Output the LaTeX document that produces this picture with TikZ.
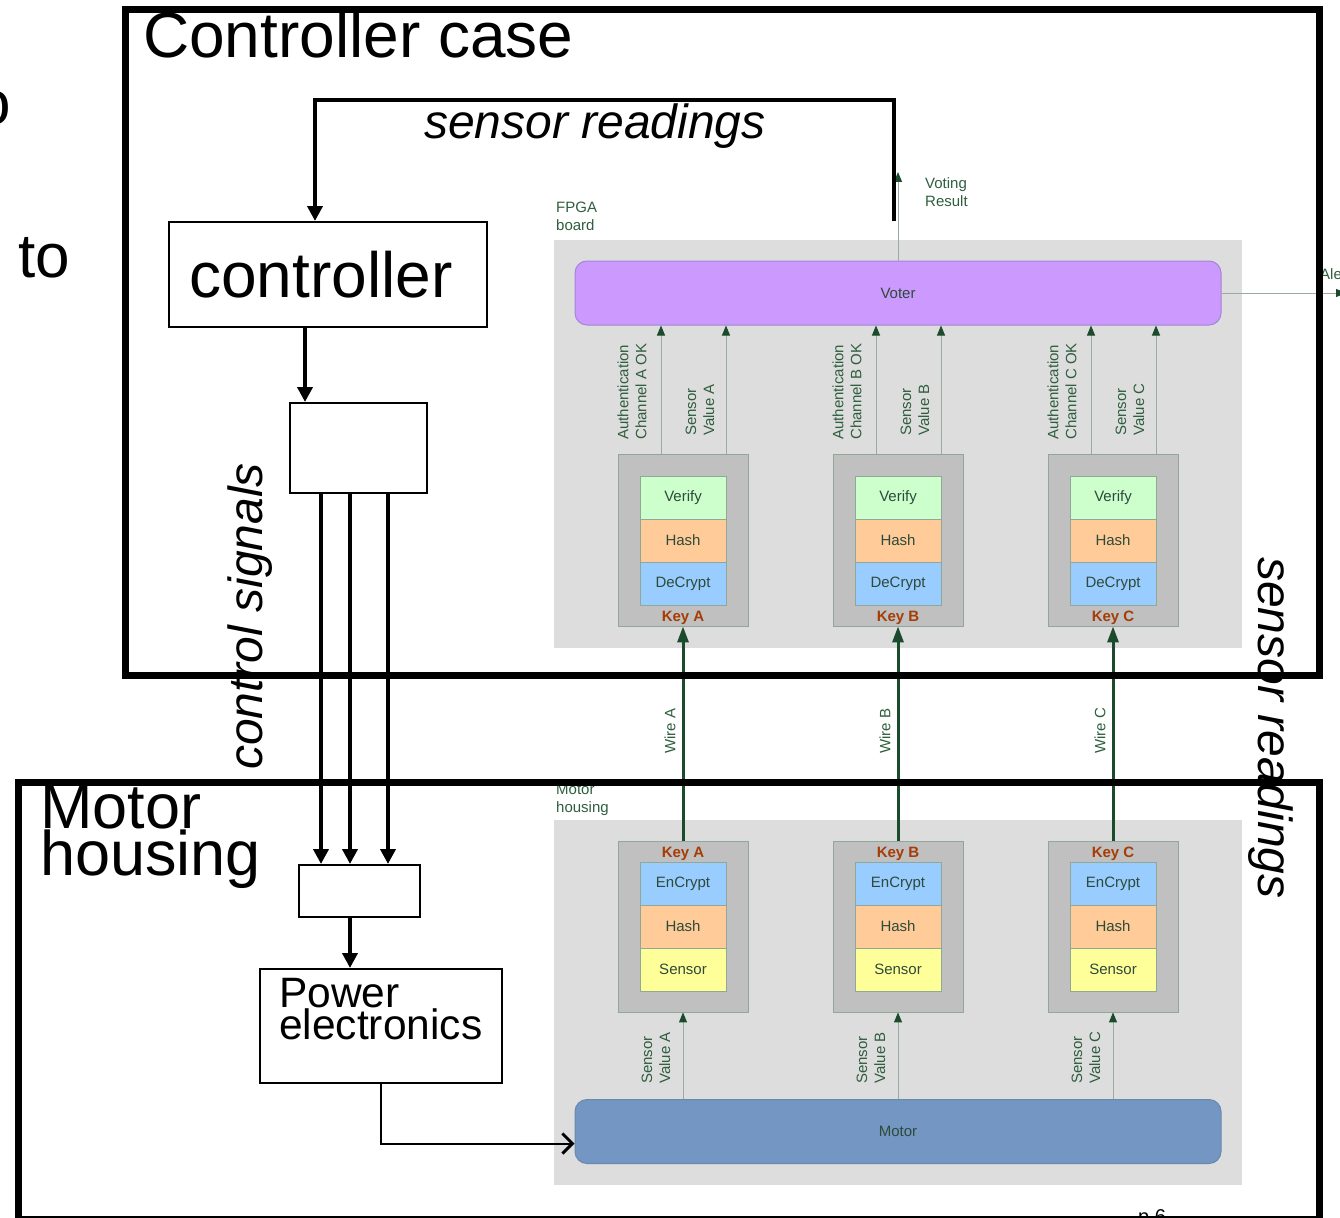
\documentclass[tikz,border=0pt]{standalone}
\usepackage{fontspec}
\setmainfont{Liberation Sans}
\usetikzlibrary{arrows.meta}
\definecolor{labgreen}{HTML}{2F5E3E}
\definecolor{arrgreen}{HTML}{1B4A2C}
\definecolor{thingray}{HTML}{9AAC9F}
\definecolor{bgarea}{HTML}{DDDDDD}
\definecolor{blkgray}{HTML}{C0C0C0}
\definecolor{blkborder}{HTML}{8FA898}
\definecolor{cverify}{HTML}{CCFFCC}
\definecolor{chash}{HTML}{FFCC99}
\definecolor{ccrypt}{HTML}{99CCFF}
\definecolor{csensor}{HTML}{FFFF99}
\definecolor{cvoter}{HTML}{CC99FF}
\definecolor{cvoterb}{HTML}{A385D6}
\definecolor{cmotor}{HTML}{7396C2}
\definecolor{cmotorb}{HTML}{6A88AE}
\definecolor{ckey}{HTML}{A63C06}
\definecolor{ctext}{HTML}{2E4A3A}
\begin{document}
\begin{tikzpicture}[x=1pt,y=-1pt,
  frame/.style={draw, line width=7pt, inner sep=0pt},
  blk/.style={draw, line width=2pt, inner sep=0pt},
  thk/.style={line width=4.5pt, -{Triangle[length=15pt,width=15pt]}},
  pw/.style={line width=2pt, -{Straight Barb[length=10pt,width=20pt,line width=3pt]}},
  sig/.style={draw=thingray, line width=1pt, -{Triangle[length=10pt,width=8pt,color=arrgreen]}},
  wire/.style={draw=arrgreen, line width=3pt, -{Triangle[length=16pt,width=11pt]}},
  area/.style={fill=bgarea, inner sep=0pt},
  outer/.style={fill=blkgray, draw=blkborder, line width=0.8pt, minimum width=130pt, inner sep=0pt},
  innerb/.style={draw=blkborder, line width=0.8pt, minimum width=86pt, minimum height=43pt, inner sep=0pt, text=ctext, font=\fontsize{15}{18}\selectfont},
  keylab/.style={text=ckey, font=\bfseries\fontsize{15}{18}\selectfont, inner sep=0pt},
  lab/.style={text=labgreen, font=\fontsize{15}{18}\selectfont, inner sep=0pt, align=left},
  big/.style={inner sep=0pt, font=\fontsize{64}{45}\selectfont},
  itl/.style={inner sep=0pt, font=\itshape\fontsize{48}{50}\selectfont}
]
\useasboundingbox (0,0) rectangle (1340,1217);
\clip (0,0) rectangle (1340,1217);

% grey areas
\node[area, minimum width=688pt, minimum height=408pt] (fpga) at (898,444) {};
\node[area, minimum width=688pt, minimum height=365pt] (mharea) at (898,1002.5) {};
\node[lab, anchor=north west] (fpgalbl) at (556,202) {FPGA\\board};
\node[lab, anchor=north west] (mhlbl) at (556,784) {Motor\\housing};

% voter and motor
\node[draw=cvoterb, fill=cvoter, line width=1pt, rounded corners=12pt, minimum width=646pt, minimum height=64pt, text=ctext, font=\fontsize{15}{18}\selectfont] (voter) at (898,293) {Voter};
\node[draw=cmotorb, fill=cmotor, line width=1pt, rounded corners=12pt, minimum width=646pt, minimum height=64pt, text=ctext, font=\fontsize{15}{18}\selectfont] (motor) at (898,1131.5) {Motor};

% voting result / alert
\coordinate (vres) at (898,172);
\draw[sig] (voter.north) -- (vres);
\node[lab, anchor=north west] (vreslbl) at (925,177) {Voting\\Result};
\coordinate (alertend) at (1346,293);
\draw[sig] (voter.east) -- (alertend);
\node[lab, anchor=west] (alertlbl) at (1320,274) {Alert};

\foreach \c/\x in {A/683,B/898,C/1113}{
  % FPGA side
  \node[outer, minimum height=172pt] (fp\c) at (\x,540) {};
  \node[innerb, fill=cverify] (ver\c) at (\x,497.5) {Verify};
  \node[innerb, fill=chash] (hsh\c) at (\x,540.5) {Hash};
  \node[innerb, fill=ccrypt] (dec\c) at (\x,583.5) {DeCrypt};
  \node[keylab] (kt\c) at (\x,617.5) {Key \c};
  \draw[sig] ([xshift=-22pt]fp\c.north) -- ([xshift=-22pt]fp\c.north |- voter.south);
  \draw[sig] ([xshift=43pt]fp\c.north) -- ([xshift=43pt]fp\c.north |- voter.south);
  \node[lab, rotate=90, anchor=west] (auth\c) at (\x-51,440) {Authentication\\Channel \c\ OK};
  \node[lab, rotate=90, anchor=west] (sv\c) at (\x+17,436) {Sensor\\Value \c};
  % motor side
  \node[outer, minimum height=171pt] (mb\c) at (\x,926.5) {};
  \node[keylab] (kb\c) at (\x,853.5) {Key \c};
  \node[innerb, fill=ccrypt] (enc\c) at (\x,883.5) {EnCrypt};
  \node[innerb, fill=chash] (mh\c) at (\x,926.5) {Hash};
  \node[innerb, fill=csensor] (sen\c) at (\x,969.5) {Sensor};
  \draw[sig] (motor.north -| mb\c.south) -- (mb\c.south);
  \node[lab, rotate=90, anchor=west] (msv\c) at (\x-27,1084) {Sensor\\Value \c};
  % wire
  \draw[wire] (mb\c.north) -- (fp\c.south);
  \node[lab, rotate=90] (wl\c) at (\x-13,731) {Wire \c};
}

% frames
\node[frame, minimum width=1194pt, minimum height=665pt] (ccase) at (722,342.5) {};
\node[frame, minimum width=1301pt, minimum height=437pt] (mhouse) at (668.5,1000.5) {};

% big texts
\node[big, anchor=base west] (cclbl) at (143,58) {Controller case};
\node[big, anchor=north west, align=left, font=\fontsize{63}{45}\selectfont] (mhbig) at (40,785) {Motor\\housing};
\node[big, anchor=base west, font=\fontsize{62}{62}\selectfont] (tolbl) at (18,277) {to};
\node[big, anchor=base east, font=\fontsize{62}{62}\selectfont] (olbl) at (11,125) {o};
\node[itl, anchor=base west] (srtop) at (424,139) {sensor readings};
\node[itl, rotate=90, anchor=base west] (cslbl) at (262,770) {control signals};
\node[itl, rotate=-90, anchor=base west] (srright) at (1258,557) {sensor readings};
\node[inner sep=0pt, anchor=north west, font=\fontsize{20}{20}\selectfont] (pg) at (1138,1209) {p 6};

% controller chain
\node[blk, minimum width=318pt, minimum height=105pt, font=\fontsize{64}{64}\selectfont] (controller) at (328,274.5) {\hspace*{-14pt}controller};
\node[blk, minimum width=137pt, minimum height=90pt] (mux) at (358.5,448) {};
\node[blk, minimum width=121pt, minimum height=52pt] (dmx) at (359.5,891) {};
\node[blk, minimum width=242pt, minimum height=114pt] (power) at (381,1026) {};
\node[inner sep=0pt, anchor=north west, align=left, font=\fontsize{42.5}{31}\selectfont] (powerlbl) at (279,978) {Power\\electronics};

\coordinate (fbstart) at (894,221);
\coordinate (fbtop) at (315,100);
\draw[thk] (fbstart) |- (fbtop) -- (fbtop |- controller.north);
\draw[thk] ([xshift=-23pt]controller.south) -- ([xshift=-23pt]controller.south |- mux.north);
\foreach \dx in {-37.5,-8.5,29.5}{
  \draw[thk] ([xshift=\dx pt]mux.south) -- ([xshift=\dx pt]mux.south |- dmx.north);
}
\draw[thk] ([xshift=-9.5pt]dmx.south) -- ([xshift=-9.5pt]dmx.south |- power.north);
\draw[pw] (power.south) |- ([yshift=-12pt]motor.west);
\end{tikzpicture}
\end{document}
